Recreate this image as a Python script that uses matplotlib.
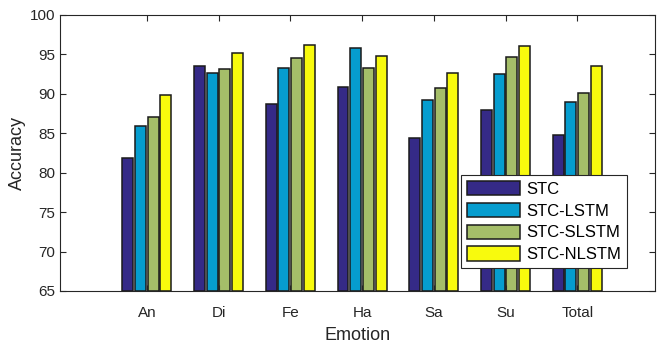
import numpy as np
import matplotlib.pyplot as plt

plt.rcParams['font.family'] = ['Liberation Sans', 'DejaVu Sans']

emotions = ['An', 'Di', 'Fe', 'Ha', 'Sa', 'Su', 'Total']
series = ['STC', 'STC-LSTM', 'STC-SLSTM', 'STC-NLSTM']
stc = [81.9, 93.5, 88.7, 90.9, 84.4, 88.0, 84.8]
stc_lstm = [85.9, 92.7, 93.3, 95.8, 89.2, 92.5, 89.0]
stc_slstm = [87.0, 93.1, 94.6, 93.3, 90.8, 94.7, 90.1]
stc_nlstm = [89.9, 95.2, 96.2, 94.8, 92.7, 96.1, 93.5]
colors = ['#352a87', '#069dcf', '#a5be69', '#f8fa0d']

fig = plt.figure(figsize=(6.6, 3.48), dpi=100)
ax = fig.add_axes([0.091, 0.164, 0.901, 0.793])

x = np.arange(len(emotions))
step = 0.177
width = 0.153
for i, (vals, name) in enumerate(zip([stc, stc_lstm, stc_slstm, stc_nlstm], series)):
    ax.bar(x + (i - 1.5) * step, np.array(vals) - 65, width, bottom=65,
           color=colors[i], edgecolor='#1a1a1a', linewidth=1.1, label=name)

ax.set_ylim(65, 100)
ax.set_xlim(-1.21, 7.08)
ax.set_xticks(x)
ax.set_xticklabels(emotions)
ax.set_yticks(range(65, 101, 5))
ax.tick_params(direction='in', top=True, right=True, labelsize=11,
               colors='#262626', length=4, width=0.8)
ax.tick_params(axis='x', pad=11)
for s in ax.spines.values():
    s.set_color('#262626')
    s.set_linewidth(0.8)
ax.set_xlabel('Emotion', fontsize=13, color='#262626', labelpad=5)
ax.set_ylabel('Accuracy', fontsize=13, color='#262626', labelpad=3)

leg = ax.legend(loc='lower left', bbox_to_anchor=(0.674, 0.083), fontsize=12,
                fancybox=False, framealpha=1, edgecolor='#262626',
                handlelength=3.2, handleheight=0.95, borderpad=0.35,
                labelspacing=0.35, handletextpad=0.4, borderaxespad=0)
leg.get_frame().set_linewidth(0.8)

fig.savefig('out.png', dpi=100)
